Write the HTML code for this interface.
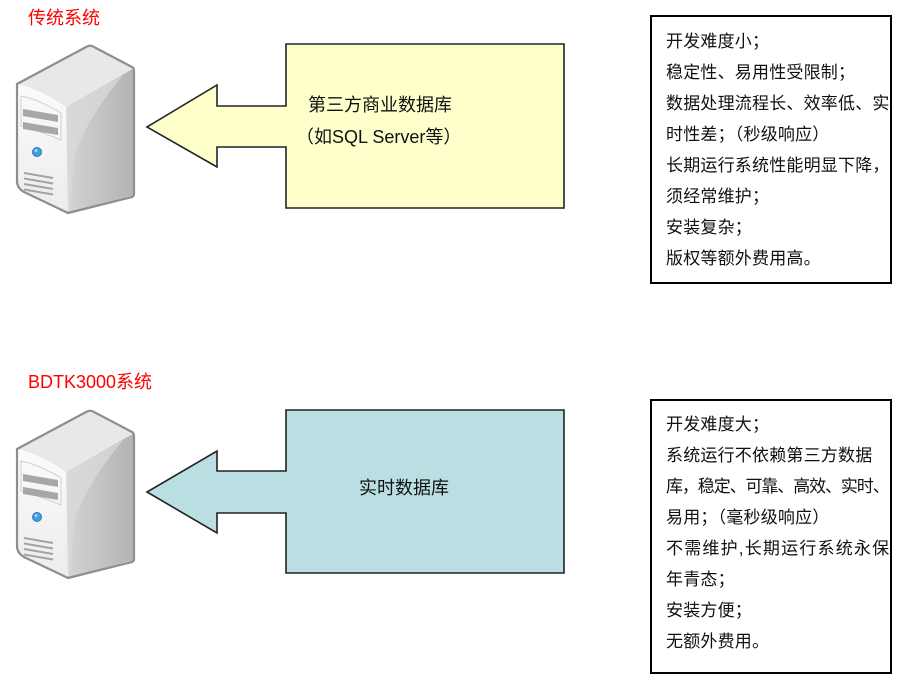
<!DOCTYPE html>
<html>
<head>
<meta charset="utf-8">
<style>
  html, body { margin:0; padding:0; background:#ffffff; }
  body { width:903px; height:683px; position:relative; overflow:hidden;
         font-family:"Liberation Sans","Noto Sans CJK SC","WenQuanYi Zen Hei",sans-serif; color:#111; }
  svg { position:absolute; left:0; top:0; }
  .t { position:absolute; white-space:nowrap; }
  .title { color:#ff0000; font-size:18px; line-height:24px; }
  .mid { font-size:18px; line-height:24px; color:#111; }
  .box { position:absolute; border:2px solid #000; box-sizing:border-box; background:#fff; }
  .box .ln { position:absolute; left:14px; font-size:17px; line-height:31px; letter-spacing:0.2px; white-space:nowrap; color:#111; }
</style>
</head>
<body>
<svg width="903" height="683" viewBox="0 0 903 683" xmlns="http://www.w3.org/2000/svg">
  <defs>
    <linearGradient id="side" x1="0" y1="0" x2="1" y2="0">
      <stop offset="0" stop-color="#d4d4d4"/>
      <stop offset="1" stop-color="#b3b3b3"/>
    </linearGradient>
    <linearGradient id="front" x1="0" y1="0" x2="0" y2="1">
      <stop offset="0" stop-color="#fbfbfb"/>
      <stop offset="1" stop-color="#ececec"/>
    </linearGradient>
    <g id="srv">
      <path d="M66,107 L134,68 L134,195 L68,213 Z" fill="url(#side)"/>
      <path d="M66,107 L123,75 Q92,112 76,150 Q71,178 71,212 L68,213 Z" fill="#dcdcdc" opacity="0.7"/>
      <path d="M17,84 L87,46.5 Q90,45 93,46.5 L134,68 L66,107 Q38,88 17,84 Z" fill="#e8e8e8"/>
      <path d="M17,84 Q38,88 66,107 L68,213 Q42,202 24,192 Q17,188 17,181 Z" fill="url(#front)"/>
      <path d="M21,96 Q40,100 61,113 L61,140 Q40,131 21,126 Z" fill="none" stroke="#cfcfcf" stroke-width="1"/>
      <polygon points="23,109 58,115 58,122 23,116" fill="#a7a7a7"/>
      <polygon points="23,122 58,128 58,135 23,129" fill="#a7a7a7"/>
      <circle cx="37" cy="152" r="4.5" fill="#3fa0dc" stroke="#2a7db8" stroke-width="1"/>
      <circle cx="36" cy="150.5" r="1.3" fill="#bfe3f7"/>
      <g stroke="#a3a3a3" stroke-width="2">
        <line x1="24" y1="173" x2="53" y2="178"/>
        <line x1="24" y1="178.5" x2="53" y2="183.5"/>
        <line x1="24" y1="184" x2="53" y2="189"/>
        <line x1="24" y1="189.5" x2="53" y2="194.5"/>
      </g>
      <path d="M17,84 L87,46.5 Q90,45 93,46.5 L132,67 Q134,68 134,71 L134,194 Q134,196 132,197 L68,213 L24,192 Q17,188 17,181 Z" fill="none" stroke="#8e8e8e" stroke-width="2.2" stroke-linejoin="round"/>
    </g>
  </defs>

  <use href="#srv"/>
  <use href="#srv" transform="translate(0,365)"/>

  <path d="M286,44 L564,44 L564,208 L286,208 L286,147 L217,147 L217,167 L147,127 L217,85 L217,106 L286,106 Z"
        fill="#ffffcc" stroke="#222" stroke-width="1.6" stroke-linejoin="miter"/>
  <path d="M286,410 L564,410 L564,573 L286,573 L286,513 L217,513 L217,533 L147,492 L217,451 L217,471 L286,471 Z"
        fill="#b9dfe3" stroke="#222" stroke-width="1.6" stroke-linejoin="miter"/>
</svg>

<div class="t title" style="left:28px; top:6px;">传统系统</div>
<div class="t title" style="left:28px; top:370px;">BDTK3000系统</div>

<div class="t mid" style="left:308px; top:93px;">第三方商业数据库</div>
<div class="t mid" style="left:296px; top:125px;">（如SQL Server等）</div>
<div class="t mid" style="left:359px; top:476px;">实时数据库</div>

<div class="box" style="left:650px; top:15px; width:242px; height:269px;">
  <div class="ln" style="top:9px;">开发难度小；</div>
  <div class="ln" style="top:40px;">稳定性、易用性受限制；</div>
  <div class="ln" style="top:71px;">数据处理流程长、效率低、实</div>
  <div class="ln" style="top:102px;">时性差；（秒级响应）</div>
  <div class="ln" style="top:133px;">长期运行系统性能明显下降，</div>
  <div class="ln" style="top:164px;">须经常维护；</div>
  <div class="ln" style="top:195px;">安装复杂；</div>
  <div class="ln" style="top:226px;">版权等额外费用高。</div>
</div>

<div class="box" style="left:650px; top:399px; width:242px; height:275px;">
  <div class="ln" style="top:8px;">开发难度大；</div>
  <div class="ln" style="top:39px;">系统运行不依赖第三方数据</div>
  <div class="ln" style="top:70px; letter-spacing:-1.1px;">库，稳定、可靠、高效、实时、</div>
  <div class="ln" style="top:101px;">易用；（毫秒级响应）</div>
  <div class="ln" style="top:132px; letter-spacing:1.2px;">不需维护,长期运行系统永保</div>
  <div class="ln" style="top:163px;">年青态；</div>
  <div class="ln" style="top:194px;">安装方便；</div>
  <div class="ln" style="top:225px;">无额外费用。</div>
</div>
</body>
</html>
